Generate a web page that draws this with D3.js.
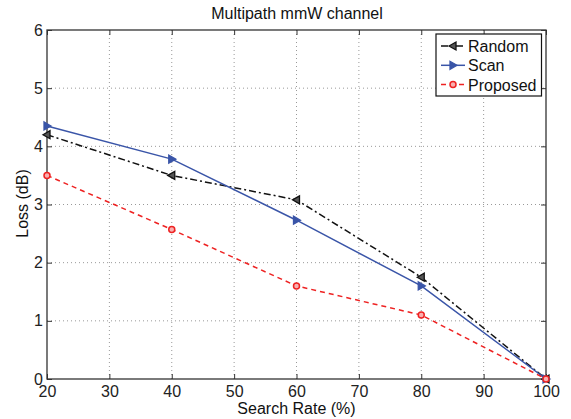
<!DOCTYPE html>
<html><head><meta charset="utf-8">
<script src="https://cdn.jsdelivr.net/npm/d3@7"></script>
<style>body{margin:0;background:#fff}svg{display:block}text{font-family:"Liberation Sans",Arial,sans-serif}</style>
</head><body><svg id="c" width="571" height="419"></svg>
<script>
const searchRate = [20, 40, 60, 80, 100];
const randomLoss = [4.2, 3.5, 3.08, 1.75, 0];
const scanLoss = [4.35, 3.78, 2.73, 1.6, 0];
const proposedLoss = [3.5, 2.57, 1.6, 1.1, 0];
const xTicks = [20, 30, 40, 50, 60, 70, 80, 90, 100];
const yTicks = [0, 1, 2, 3, 4, 5, 6];
const seriesNames = ["Random", "Scan", "Proposed"];

const svg = d3.select("#c");
const L = 47, R = 546, T = 30, B = 379;
const x = d3.scaleLinear().domain([20, 100]).range([L, R]);
const y = d3.scaleLinear().domain([0, 6]).range([B, T]);

// grid
const g = svg.append("g");
g.selectAll(".vx").data(xTicks.slice(1, -1)).join("line")
  .attr("x1", d => x(d)).attr("x2", d => x(d)).attr("y1", T).attr("y2", B)
  .attr("stroke", "#999").attr("stroke-width", 1).attr("stroke-dasharray", "1,3");
g.selectAll(".hy").data(yTicks.slice(1, -1)).join("line")
  .attr("y1", d => y(d)).attr("y2", d => y(d)).attr("x1", L).attr("x2", R)
  .attr("stroke", "#999").attr("stroke-width", 1).attr("stroke-dasharray", "1,3");

// axes
const ax = svg.append("g");
const tickStyle = sel => { sel.select(".domain").remove(); sel.selectAll("line").attr("stroke", "#333"); sel.selectAll("text").attr("fill", "#222").style("font-size", "16px").style("font-family", "'Liberation Sans',Arial,sans-serif"); };
ax.append("g").attr("transform", `translate(0,${B})`)
  .call(d3.axisBottom(x).tickValues(xTicks).tickSize(-5).tickPadding(7).tickFormat(d3.format("d"))).call(tickStyle);
ax.append("g").attr("transform", `translate(0,${T})`)
  .call(d3.axisTop(x).tickValues(xTicks).tickSize(-5).tickFormat("")).call(tickStyle);
ax.append("g").attr("transform", `translate(${L},0)`)
  .call(d3.axisLeft(y).tickValues(yTicks).tickSize(-5).tickPadding(4).tickFormat(d3.format("d"))).call(tickStyle);
ax.append("g").attr("transform", `translate(${R},0)`)
  .call(d3.axisRight(y).tickValues(yTicks).tickSize(-5).tickFormat("")).call(tickStyle);
svg.append("rect").attr("x", L).attr("y", T).attr("width", R - L).attr("height", B - T)
  .attr("fill", "none").attr("stroke", "#333").attr("stroke-width", 1.3);

// series
const series = [
  {name: seriesNames[0], vals: randomLoss, color: "#111", dash: "7,3,2,3", marker: "tl", fill: "#555"},
  {name: seriesNames[1], vals: scanLoss, color: "#3a55a8", dash: null, marker: "tr", fill: "#3a55a8"},
  {name: seriesNames[2], vals: proposedLoss, color: "#ee2222", dash: "5,4", marker: "c", fill: "#f8b0b0"}
];
const line = d3.line().x(d => x(d[0])).y(d => y(d[1]));
function marker(sel, s) {
  if (s.marker === "c") {
    sel.append("circle").attr("r", 3).attr("fill", s.fill).attr("stroke", s.color).attr("stroke-width", 1.5);
  } else {
    const p = s.marker === "tl" ? "M-4,0L3,-4L3,4Z" : "M4,0L-3,-4L-3,4Z";
    sel.append("path").attr("d", p).attr("fill", s.fill).attr("stroke", s.color).attr("stroke-width", 1.3);
  }
}
series.forEach(s => {
  const pts = searchRate.map((r, i) => [r, s.vals[i]]);
  svg.append("path").datum(pts).attr("d", line).attr("fill", "none")
    .attr("stroke", s.color).attr("stroke-width", 1.5).attr("stroke-dasharray", s.dash);
  pts.forEach(p => {
    const m = svg.append("g").attr("transform", `translate(${x(p[0])},${y(p[1])})`);
    marker(m, s);
  });
});

// legend
const lg = svg.append("g");
lg.append("rect").attr("x", 436).attr("y", 34).attr("width", 105.5).attr("height", 62)
  .attr("fill", "#fff").attr("stroke", "#111").attr("stroke-width", 1.2);
series.forEach((s, i) => {
  const yy = 46 + i * 19.3;
  lg.append("line").attr("x1", 441).attr("x2", 465).attr("y1", yy).attr("y2", yy)
    .attr("stroke", s.color).attr("stroke-width", 1.5).attr("stroke-dasharray", s.dash);
  marker(lg.append("g").attr("transform", `translate(453,${yy})`), s);
  lg.append("text").attr("x", 468).attr("y", yy + 6).style("font-size", "16px").attr("fill", "#111").text(s.name);
});

// titles
svg.append("text").attr("x", 297).attr("y", 19).attr("text-anchor", "middle")
  .style("font-size", "16px").attr("fill", "#111").text("Multipath mmW channel");
svg.append("text").attr("x", (L + R) / 2).attr("y", 414).attr("text-anchor", "middle")
  .style("font-size", "16px").attr("fill", "#111").text("Search Rate (%)");
svg.append("text").attr("transform", `translate(28,${(T + B) / 2 - 1}) rotate(-90)`).attr("text-anchor", "middle")
  .style("font-size", "16px").attr("fill", "#111").text("Loss (dB)");
</script></body></html>
